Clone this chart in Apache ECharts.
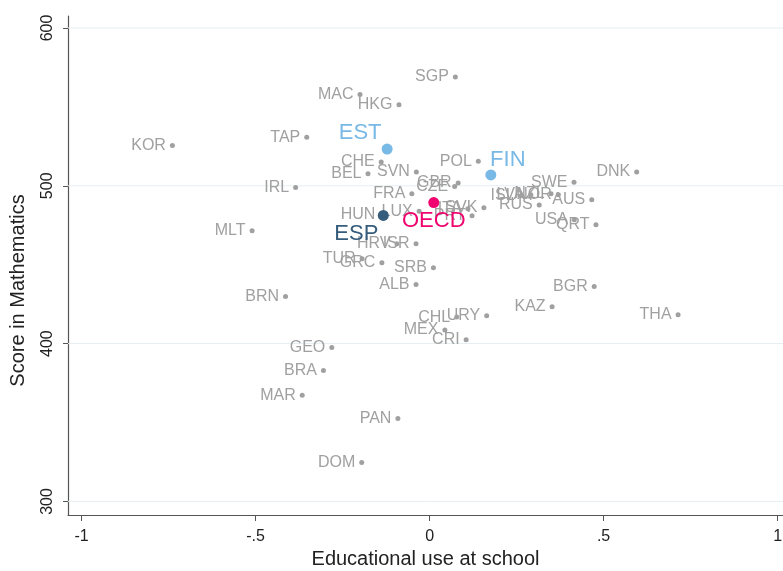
<!DOCTYPE html>
<html>
<head>
<meta charset="utf-8">
<script src="https://cdn.jsdelivr.net/npm/echarts@6/dist/echarts.min.js"></script>
<style>
  html, body { margin: 0; padding: 0; background: #fff; }
  #chart { width: 783px; height: 571px; }
</style>
</head>
<body>
<div id="chart"></div>
<script>
// countries in grey
const countries = ['KOR', 'TAP', 'MAC', 'HKG', 'SGP', 'CHE', 'POL', 'BEL', 'SVN', 'DNK',
    'IRL', 'GBR', 'CZE', 'FRA', 'SWE', 'ISL', 'LVA', 'NZL', 'NOR', 'AUS',
    'RUS', 'HUN', 'LUX', 'ITA', 'SVK', 'PRT', 'USA', 'QRT', 'MLT', 'HRV',
    'ISR', 'TUR', 'GRC', 'SRB', 'ALB', 'BGR', 'BRN', 'KAZ', 'THA', 'CHL',
    'URY', 'MEX', 'CRI', 'GEO', 'BRA', 'MAR', 'PAN', 'DOM']
const eduUse = [-0.739, -0.353, -0.200, -0.088, 0.074, -0.139, 0.140, -0.177, -0.038, 0.595,
    -0.385, 0.082, 0.072, -0.051, 0.415, 0.263, 0.291, 0.349, 0.370, 0.466,
    0.315, -0.137, -0.030, 0.110, 0.156, 0.122, 0.416, 0.478, -0.510, -0.094,
    -0.039, -0.194, -0.137, 0.011, -0.039, 0.473, -0.414, 0.352, 0.714, 0.078,
    0.164, 0.044, 0.105, -0.281, -0.305, -0.366, -0.091, -0.195]
const mathScore = [525.6, 530.7, 557.8, 551.3, 569.0, 515.1, 515.5, 507.7, 508.7, 508.8,
    499.0, 501.8, 499.5, 495.0, 502.2, 493.7, 494.3, 495.0, 494.3, 491.2,
    487.8, 481.5, 483.8, 485.5, 486.1, 481.0, 478.5, 475.3, 471.5, 463.3,
    463.3, 453.8, 451.2, 448.1, 437.5, 436.2, 429.9, 423.3, 418.3, 416.8,
    417.6, 408.7, 402.4, 397.5, 382.9, 367.3, 352.5, 324.6]

// highlighted
const highlightNames = ['EST', 'FIN', 'ESP', 'OECD']
const highlightEdu = [-0.122, 0.176, -0.133, 0.012]
const highlightScore = [523.3, 506.9, 481.2, 489.4]

const xTicks = [-1, -0.5, 0, 0.5, 1]
const yTicks = [300, 400, 500, 600]

const xMin = -1.039
const xMax = 1.0155

// label styling for the highlighted ones
const highlightStyle = {
    EST: {color: '#78b9e6', offset: [-27, -16]},
    FIN: {color: '#78b9e6', offset: [17, -15]},
    ESP: {color: '#365c7c', offset: [-27, 18]},
    OECD: {color: '#f0046f', offset: [0, 18]},
}

const font = '"Liberation Sans", Arial, Helvetica, sans-serif'
const grey = '#a0a0a0'
const axisColor = '#555'

const chart = echarts.init(document.getElementById('chart'))

const greyData = countries.map((c, i) => [eduUse[i], mathScore[i], c])
const highlightData = highlightNames.map((c, i) => ({
    value: [highlightEdu[i], highlightScore[i], c],
    itemStyle: {color: highlightStyle[c].color, opacity: 1},
    label: {color: highlightStyle[c].color, offset: highlightStyle[c].offset},
}))

// horizontal grid lines, one line series per y tick, behind everything
const gridSeries = yTicks.map(v => ({
    type: 'line',
    z: 0,
    silent: true,
    symbol: 'none',
    lineStyle: {color: '#e6eef1', width: 1},
    data: [[xMin, v], [xMax, v]],
}))

const fmtX = v => v === 0 ? '0' : String(v).replace('0.', '.')

const option = {
    animation: false,
    backgroundColor: '#fff',
    textStyle: {fontFamily: font},
    grid: {left: 68, right: 0, top: 16, bottom: 56, outerBoundsMode: 'none', containLabel: false},
    xAxis: {
        type: 'value',
        min: xMin,
        max: xMax,
        name: 'Educational use at school',
        nameLocation: 'middle',
        nameGap: 32,
        nameTextStyle: {fontSize: 20, color: '#222', fontFamily: font},
        axisLine: {show: true, onZero: false, lineStyle: {color: axisColor, width: 1.2}},
        axisTick: {show: true, length: 6, customValues: xTicks, lineStyle: {color: axisColor}},
        axisLabel: {customValues: xTicks, formatter: fmtX, fontSize: 16, color: '#222', margin: 14, fontFamily: font},
        splitLine: {show: false},
    },
    yAxis: {
        type: 'value',
        min: 291.4,
        max: 607.6,
        name: 'Score in Mathematics',
        nameLocation: 'middle',
        nameGap: 40,
        nameTextStyle: {fontSize: 20, color: '#222', fontFamily: font, padding: [0, 50, 0, 0]},
        axisLine: {show: true, onZero: false, lineStyle: {color: axisColor, width: 1.2}},
        axisTick: {show: true, length: 5, customValues: yTicks, lineStyle: {color: axisColor}},
        axisLabel: {customValues: yTicks, rotate: 90, fontSize: 16, color: '#222', margin: 12, fontFamily: font},
        splitLine: {show: false},
    },
    series: [
        ...gridSeries,
        {
            type: 'scatter',
            z: 2,
            symbolSize: 5,
            itemStyle: {color: grey, opacity: 1},
            label: {
                show: true,
                position: 'left',
                distance: 4,
                formatter: p => p.value[2],
                color: grey,
                fontSize: 16,
                fontFamily: font,
            },
            data: greyData,
        },
        {
            type: 'scatter',
            z: 3,
            symbolSize: 11,
            label: {
                show: true,
                position: 'inside',
                formatter: p => p.value[2],
                fontSize: 22,
                fontFamily: font,
            },
            data: highlightData,
        },
    ],
}

chart.setOption(option)
</script>
</body>
</html>
